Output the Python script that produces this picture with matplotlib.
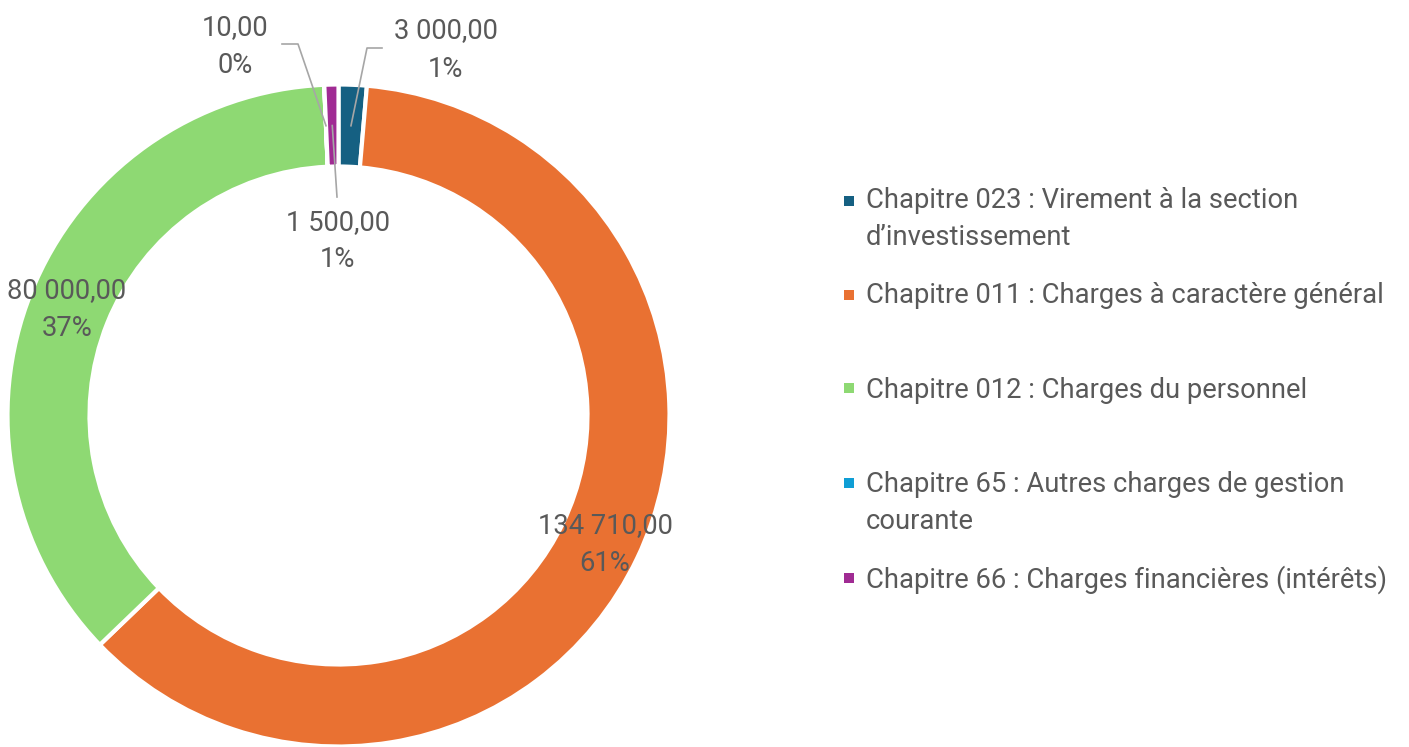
import matplotlib
matplotlib.use('Agg')
import matplotlib.pyplot as plt
from matplotlib.patches import Rectangle
import numpy as np

# ---------------- data ----------------
categories = [
    "Chapitre 023 : Virement à la section\nd’investissement",
    "Chapitre 011 : Charges à caractère général",
    "Chapitre 012 : Charges du personnel",
    "Chapitre 65 : Autres charges de gestion\ncourante",
    "Chapitre 66 : Charges financières (intérêts)",
]
values = [3000, 134710, 80000, 10, 1500]
percent_labels = [1, 61, 37, 0, 1]
colors = ['#156082', '#E97132', '#8ED973', '#0F9ED5', '#A02B93']

# ---------------- layout ----------------
W, H = 1409, 747
FONT = 'Roboto'
TXT = '#595959'

fig = plt.figure(figsize=(W / 100, H / 100), dpi=100)
ax = fig.add_axes([0, 0, 1, 1])

def Y(py):
    return H - py

cx, cy = 338.5, Y(415.5)
R, ring = 331, 82
wedges, _ = ax.pie(values, colors=colors, startangle=90, counterclock=False,
                   radius=R, center=(cx, cy), frame=False,
                   wedgeprops=dict(width=ring, edgecolor='white', linewidth=3))
ax.set_xlim(0, W)
ax.set_ylim(0, H)
ax.set_aspect('equal')
ax.axis('off')

# font size fit: legend longest line width ~517 px
probe = ax.text(0, 0, categories[1], fontsize=19, family=FONT)
fig.canvas.draw()
w = probe.get_window_extent(fig.canvas.get_renderer()).width
probe.remove()
FS = 19 * 517.0 / w

def fmt(v):
    return f"{v:,.2f}".replace(',', ' ').replace('.', ',')

def ring_point(i, r=R - ring / 2):
    t = np.deg2rad((wedges[i].theta1 + wedges[i].theta2) / 2)
    return cx + r * np.cos(t), cy + r * np.sin(t)

def label(x, b1, b2, i):
    ax.text(x, Y(b1), fmt(values[i]), ha='center', va='baseline',
            fontsize=FS, family=FONT, color=TXT)
    ax.text(x, Y(b2), f"{percent_labels[i]}%", ha='center', va='baseline',
            fontsize=FS, family=FONT, color=TXT)

# large slices: labels inside the ring
label(605, 533, 571, 1)
label(67, 298, 336, 2)

# small slices with leader lines
LC = '#A6A6A6'
# blue (index 0)
label(446, 38, 77, 0)
p = ring_point(0)
ax.plot([p[0], 367, 382], [p[1], Y(48), Y(48)], color=LC, lw=1.2)
# cyan (index 3)
label(235, 35, 73, 3)
p = ring_point(3)
ax.plot([p[0], 298, 282], [p[1], Y(44), Y(44)], color=LC, lw=1.2)
# purple (index 4)
label(338, 230, 267, 4)
p = ring_point(4)
ax.plot([p[0], 337], [p[1], Y(197)], color=LC, lw=1.2)

# ---------------- legend ----------------
legend_baselines = [208, 303, 398, 492, 588]
square_centers = [201, 295, 388, 483, 578]
line_gap = 37
for i, cat in enumerate(categories):
    sq = 10
    ax.add_patch(Rectangle((849 - sq / 2, Y(square_centers[i]) - sq / 2), sq, sq,
                           facecolor=colors[i], edgecolor='none'))
    for k, line in enumerate(cat.split('\n')):
        ax.text(866, Y(legend_baselines[i] + k * line_gap), line, ha='left',
                va='baseline', fontsize=FS, family=FONT, color=TXT)

fig.savefig('out.png', dpi=100, facecolor='white')
